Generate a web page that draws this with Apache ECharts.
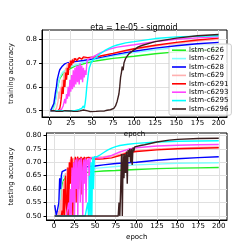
<!DOCTYPE html>
<html><head><meta charset="utf-8">
<script src="https://cdn.jsdelivr.net/npm/echarts@6/dist/echarts.min.js"></script>
<style>html,body{margin:0;padding:0;background:#fff}#c{width:252px;height:252px}</style>
</head><body><div id="c"></div>
<script>
const names = ['lstm-c626','lstm-c627','lstm-c628','lstm-c629','lstm-c6291','lstm-c6293','lstm-c6295','lstm-c6296'];
const colors = ['#22ee22','#80ffff','#0000ff','#ffb0b0','#ff0000','#ff44ff','#00ffff','#3d2020'];
const xTicks = [0,25,50,75,100,125,150,175,200];
const yTicksTrain = [0.5,0.6,0.7,0.8];
const yTicksTest = [0.5,0.55,0.6,0.65,0.7,0.75,0.8];

const train_c626 = [[1,0.5],[4,0.505],[6,0.53],[8,0.57],[10,0.61],[12,0.635],[15,0.652],[20,0.668],[25,0.678],[30,0.687],[40,0.697],[50,0.706],[60,0.712],[75,0.72],[100,0.729],[125,0.739],[150,0.747],[175,0.753],[200,0.757]];
const train_c627 = [[1,0.5],[4,0.505],[6,0.52],[8,0.56],[10,0.61],[12,0.64],[15,0.66],[20,0.675],[25,0.685],[30,0.692],[40,0.703],[50,0.712],[60,0.72],[75,0.73],[100,0.744],[125,0.756],[150,0.765],[175,0.771],[200,0.776]];
const train_c628 = [[1,0.5],[3,0.505],[5,0.53],[7,0.58],[8,0.6],[9,0.63],[10,0.645],[11,0.66],[12,0.672],[13,0.68],[14,0.676],[15,0.687],[18,0.697],[22,0.702],[30,0.706],[40,0.711],[50,0.717],[60,0.724],[75,0.735],[100,0.75],[125,0.763],[150,0.773],[175,0.781],[200,0.787]];
const train_c629 = [[1,0.5],[6,0.5],[8,0.51],[10,0.54],[11,0.58],[12,0.55],[13,0.6],[14,0.57],[15,0.63],[16,0.6],[17,0.66],[18,0.62],[19,0.68],[20,0.65],[21,0.7],[22,0.67],[24,0.71],[26,0.7],[28,0.718],[30,0.71],[35,0.72],[40,0.72],[50,0.722],[60,0.728],[75,0.74],[100,0.757],[125,0.772],[150,0.784],[175,0.793],[200,0.8]];
const train_c6291 = [[1,0.5],[10,0.5],[12,0.51],[13,0.53],[14,0.56],[15,0.6],[16,0.57],[17,0.63],[18,0.6],[19,0.66],[20,0.63],[21,0.68],[22,0.65],[23,0.7],[24,0.68],[25,0.71],[26,0.69],[27,0.715],[28,0.7],[30,0.72],[32,0.71],[35,0.723],[38,0.716],[40,0.726],[45,0.723],[50,0.725],[55,0.727],[60,0.73],[75,0.741],[90,0.753],[100,0.76],[125,0.775],[150,0.787],[175,0.797],[200,0.805]];
const train_c6293 = [[1,0.5],[10,0.5],[14,0.505],[16,0.52],[18,0.55],[19,0.53],[20,0.57],[21,0.55],[22,0.6],[23,0.56],[24,0.63],[25,0.58],[26,0.65],[27,0.59],[28,0.67],[29,0.6],[30,0.68],[31,0.61],[32,0.69],[33,0.62],[34,0.69],[35,0.61],[36,0.7],[37,0.63],[38,0.69],[39,0.62],[40,0.68],[41,0.64],[42,0.67],[43,0.65],[44,0.7],[45,0.715],[47,0.72],[50,0.724],[55,0.733],[60,0.743],[70,0.758],[80,0.767],[100,0.777],[125,0.79],[150,0.8],[175,0.806],[200,0.81]];
const train_c6295 = [[1,0.5],[30,0.5],[35,0.505],[38,0.51],[40,0.52],[41,0.51],[42,0.53],[43,0.56],[44,0.6],[45,0.63],[46,0.66],[47,0.68],[48,0.69],[49,0.7],[50,0.705],[52,0.715],[55,0.725],[60,0.74],[65,0.752],[70,0.762],[75,0.77],[80,0.776],[90,0.785],[100,0.79],[125,0.803],[150,0.81],[175,0.813],[200,0.815]];
const train_c6296 = [[1,0.5],[3,0.495],[5,0.5],[8,0.497],[10,0.5],[12,0.498],[15,0.497],[18,0.5],[20,0.496],[25,0.499],[28,0.497],[30,0.5],[33,0.497],[36,0.499],[40,0.503],[42,0.497],[45,0.499],[48,0.496],[50,0.498],[55,0.497],[60,0.498],[65,0.499],[68,0.502],[70,0.5],[72,0.504],[74,0.505],[76,0.51],[78,0.52],[80,0.54],[82,0.57],[83,0.6],[84,0.64],[85,0.66],[86,0.685],[87,0.67],[88,0.7],[89,0.705],[90,0.72],[92,0.73],[94,0.74],[96,0.745],[98,0.75],[100,0.757],[105,0.768],[110,0.775],[125,0.79],[150,0.805],[175,0.815],[200,0.82]];

const test_c626 = [[1,0.5],[7,0.5],[8,0.55],[9,0.6],[10,0.62],[12,0.635],[15,0.645],[20,0.65],[25,0.655],[30,0.658],[40,0.662],[50,0.665],[60,0.667],[75,0.669],[100,0.673],[125,0.676],[150,0.678],[175,0.679],[200,0.68]];
const test_c627 = [[1,0.5],[7,0.5],[8,0.58],[9,0.62],[10,0.64],[12,0.65],[15,0.655],[20,0.66],[30,0.668],[40,0.673],[50,0.677],[60,0.68],[75,0.684],[100,0.69],[125,0.693],[150,0.696],[175,0.697],[200,0.698]];
const test_c628 = [[1,0.54],[2,0.52],[3,0.5],[5,0.5],[6,0.55],[7,0.64],[8,0.6],[9,0.65],[10,0.665],[12,0.668],[15,0.672],[20,0.676],[30,0.68],[40,0.683],[50,0.686],[60,0.69],[75,0.695],[100,0.7],[125,0.707],[150,0.713],[175,0.717],[200,0.72]];
const test_c629 = [[1,0.5],[5,0.5],[6,0.52],[7,0.5],[8,0.56],[9,0.5],[10,0.6],[11,0.52],[12,0.63],[13,0.55],[14,0.66],[15,0.58],[16,0.68],[17,0.6],[18,0.7],[19,0.63],[20,0.71],[21,0.66],[22,0.715],[23,0.68],[24,0.715],[26,0.705],[28,0.715],[30,0.7],[32,0.718],[35,0.715],[40,0.718],[50,0.718],[60,0.72],[75,0.725],[90,0.738],[100,0.743],[125,0.749],[150,0.752],[175,0.755],[200,0.757]];
const test_c6291 = [[1,0.5],[9,0.5],[10,0.52],[11,0.5],[12,0.6],[13,0.5],[14,0.65],[15,0.55],[16,0.5],[17,0.68],[18,0.5],[19,0.7],[20,0.62],[21,0.72],[22,0.71],[23,0.5],[24,0.7],[25,0.68],[26,0.72],[27,0.55],[28,0.71],[29,0.72],[30,0.6],[31,0.715],[32,0.7],[33,0.72],[34,0.58],[35,0.715],[36,0.705],[37,0.72],[38,0.65],[39,0.715],[40,0.71],[42,0.718],[44,0.715],[46,0.713],[50,0.712],[55,0.712],[60,0.713],[70,0.716],[80,0.725],[90,0.735],[100,0.74],[125,0.746],[150,0.75],[175,0.752],[200,0.754]];
const test_c6293 = [[1,0.5],[15,0.5],[17,0.5],[18,0.55],[19,0.5],[20,0.6],[21,0.5],[22,0.68],[23,0.55],[24,0.7],[25,0.5],[26,0.71],[27,0.6],[28,0.715],[29,0.5],[30,0.7],[31,0.71],[32,0.55],[33,0.715],[34,0.68],[35,0.5],[36,0.71],[37,0.62],[38,0.715],[39,0.55],[40,0.71],[41,0.69],[42,0.715],[43,0.6],[44,0.715],[46,0.72],[50,0.718],[55,0.715],[60,0.717],[70,0.725],[80,0.738],[90,0.748],[100,0.754],[125,0.76],[150,0.763],[175,0.765],[200,0.766]];
const test_c6295 = [[1,0.5],[38,0.5],[40,0.5],[41,0.55],[42,0.5],[43,0.65],[44,0.5],[45,0.7],[46,0.5],[47,0.72],[48,0.6],[49,0.72],[50,0.718],[52,0.72],[55,0.725],[60,0.735],[65,0.745],[70,0.752],[75,0.758],[80,0.762],[90,0.767],[100,0.77],[125,0.775],[150,0.778],[175,0.779],[200,0.78]];
const test_c6296 = [[1,0.5],[78,0.5],[79,0.55],[80,0.5],[81,0.6],[82,0.73],[83,0.5],[84,0.73],[85,0.64],[86,0.73],[87,0.66],[88,0.74],[89,0.62],[90,0.745],[91,0.72],[92,0.75],[93,0.7],[94,0.75],[95,0.69],[96,0.755],[97,0.74],[98,0.757],[100,0.76],[105,0.762],[110,0.765],[125,0.775],[140,0.782],[150,0.785],[175,0.788],[200,0.789]];

const trainData = [train_c626,train_c627,train_c628,train_c629,train_c6291,train_c6293,train_c6295,train_c6296];
const testData = [test_c626,test_c627,test_c628,test_c629,test_c6291,test_c6293,test_c6295,test_c6296];

const FONT = 'DejaVu Sans';
const lbl = {fontFamily: FONT, fontSize: 7, color: '#000'};
function xAxisCfg(gi){
  return {type:'value', gridIndex:gi, min:-9, max:210,
    name:'epoch', nameLocation:'middle', nameGap:14, nameTextStyle:lbl,
    axisLine:{show:true, onZero:false, lineStyle:{color:'#000', width:1}},
    axisTick:{show:true, length:3, lineStyle:{color:'#000'}, customValues:xTicks},
    axisLabel:Object.assign({margin:3, customValues:xTicks}, lbl),
    splitLine:{show:true, lineStyle:{color:'#e0e0e0', width:1}}};
}
function yAxisCfg(gi, mn, mx, ticks, name, dec){
  return {type:'value', gridIndex:gi, min:mn, max:mx,
    name:name, nameLocation:'middle', nameGap: dec===1?19:21, nameTextStyle:lbl,
    axisLine:{show:true, onZero:false, lineStyle:{color:'#000', width:1}},
    axisTick:{show:true, length:3, lineStyle:{color:'#000'}, customValues:ticks},
    axisLabel:Object.assign({margin:5, customValues:ticks, formatter:v=>v.toFixed(dec)}, lbl),
    splitLine:{show:true, lineStyle:{color:'#e0e0e0', width:1}}};
}
const series = [];
names.forEach((n,i)=>{
  series.push({name:n, type:'line', xAxisIndex:0, yAxisIndex:0, data:trainData[i], showSymbol:false, symbol:'none', lineStyle:{width:1.4, color:colors[i]}, itemStyle:{color:colors[i]}, z:2+i});
});
names.forEach((n,i)=>{
  series.push({name:n, type:'line', xAxisIndex:1, yAxisIndex:1, data:testData[i], showSymbol:false, symbol:'none', lineStyle:{width:1.4, color:colors[i]}, itemStyle:{color:colors[i]}, z:2+i});
});
const chart = echarts.init(document.getElementById('c'), null, {renderer:'canvas'});
chart.setOption({
  animation:false,
  backgroundColor:'#fff',
  title:{text:'eta = 1e-05 - sigmoid', left:129, top:19, textAlign:'center', textStyle:{fontFamily:FONT, fontSize:8, fontWeight:'normal', color:'#000'}},
  grid:[
    {left:31, top:30, width:196, height:87, show:true, borderColor:'#000', borderWidth:1, backgroundColor:'transparent'},
    {left:31, top:133, width:196, height:87, show:true, borderColor:'#000', borderWidth:1, backgroundColor:'transparent'}
  ],
  xAxis:[xAxisCfg(0), xAxisCfg(1)],
  yAxis:[yAxisCfg(0,0.4735,0.839,yTicksTrain,'training accuracy',1), yAxisCfg(1,0.485,0.8086,yTicksTest,'testing accuracy',2)],
  legend:{data:names, orient:'vertical', left:169, top:44, padding:[2,3,2,3], itemGap:0, itemWidth:14, itemHeight:7,
    icon:'path://M0,3 L14,3 L14,4.6 L0,4.6 Z',
    textStyle:{fontFamily:FONT, fontSize:7, color:'#000', lineHeight:8.4, padding:[0,0,0,-2]},
    backgroundColor:'rgba(255,255,255,0.8)', borderColor:'#cccccc', borderWidth:1, borderRadius:2},
  series:series
});
</script></body></html>
